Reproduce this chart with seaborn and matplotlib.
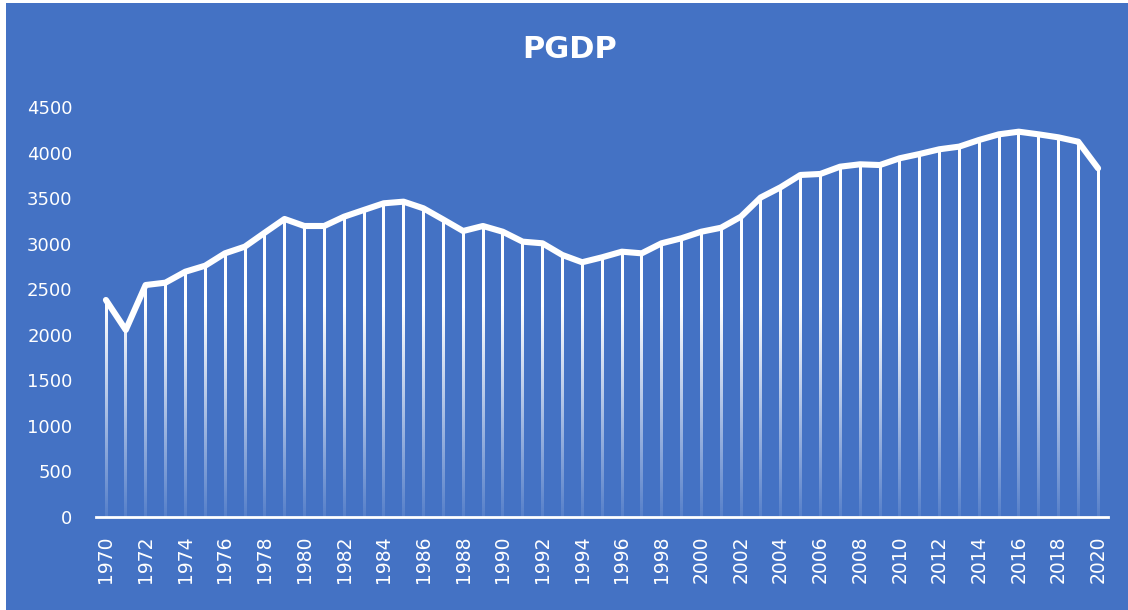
import numpy as np
import pandas as pd
import matplotlib
matplotlib.use("Agg")
import matplotlib.pyplot as plt
from matplotlib.patches import Rectangle
import seaborn as sns

years = list(range(1970, 2021))
pgdp = [2382, 2053, 2546, 2572, 2692, 2758, 2894, 2967, 3120, 3271,
        3194, 3194, 3296, 3370, 3443, 3461, 3388, 3265, 3139, 3194,
        3131, 3022, 3004, 2876, 2796, 2850, 2912, 2894, 3004, 3059,
        3131, 3175, 3296, 3507, 3619, 3754, 3765, 3845, 3871, 3863,
        3937, 3984, 4036, 4065, 4138, 4200, 4229, 4200, 4167, 4119,
        3827]
yticks = [0, 500, 1000, 1500, 2000, 2500, 3000, 3500, 4000, 4500]
xtick_years = list(range(1970, 2021, 2))
title = "PGDP"

BLUE = "#4472C4"
sns.set_theme(style="white")
plt.rcParams["font.family"] = ["DejaVu Sans"]

df = pd.DataFrame({"year": years, "PGDP": pgdp})

fig = plt.figure(figsize=(11.28, 6.10), dpi=100)
fig.patch.set_facecolor("white")
fig.patches.append(Rectangle((6 / 1128, 0), 1 - 6 / 1128, 607 / 610,
                             transform=fig.transFigure, facecolor=BLUE,
                             edgecolor="none", zorder=-10))

ax = fig.add_axes([96 / 1128, (610 - 517) / 610, (1108 - 96) / 1128, (517 - 107) / 610])
ax.set_facecolor("none")

ax.set_xlim(1969.5, 2020.5)
ax.set_ylim(0, 4500)

# gradient drop lines (white fading towards the axis)
px_per_year = (1108 - 96) / (2020.5 - 1969.5)
hw = 1.3 / px_per_year  # half width of a drop line, ~2.6 px wide
for x, v in zip(years, pgdp):
    yy = np.linspace(0, v, 256)
    alpha = 0.1 + 0.9 * np.clip(yy / 2300, 0, 1) ** 1.0
    img = np.ones((256, 1, 4))
    img[:, 0, 3] = alpha
    ax.imshow(img, extent=(x - hw, x + hw, 0, v), origin="lower", aspect="auto",
              interpolation="bilinear", zorder=2)

sns.lineplot(data=df, x="year", y="PGDP", ax=ax, color="white", linewidth=4.4,
             solid_capstyle="round", solid_joinstyle="round", zorder=3, clip_on=False)

ax.set_xlim(1969.5, 2020.5)
ax.set_ylim(0, 4500)
ax.set_xticks(xtick_years)
ax.set_xticklabels([str(y) for y in xtick_years], rotation=90, color="white", fontsize=13.5)
ax.set_yticks(yticks)
ax.set_yticklabels([str(t) for t in yticks], color="white", fontsize=13)
ax.tick_params(axis="x", length=0, pad=13)
ax.tick_params(axis="y", length=0, pad=17)
ax.set_xlabel("")
ax.set_ylabel("")
for s in ["top", "right", "left"]:
    ax.spines[s].set_visible(False)
ax.spines["bottom"].set_color("white")
ax.spines["bottom"].set_linewidth(2)
ax.spines["bottom"].set_zorder(4)
ax.grid(False)

fig.text(570 / 1128, 1 - 50 / 610, title, ha="center", va="center", color="white",
         fontsize=22, fontweight="bold")

fig.savefig("out.png", dpi=100)
